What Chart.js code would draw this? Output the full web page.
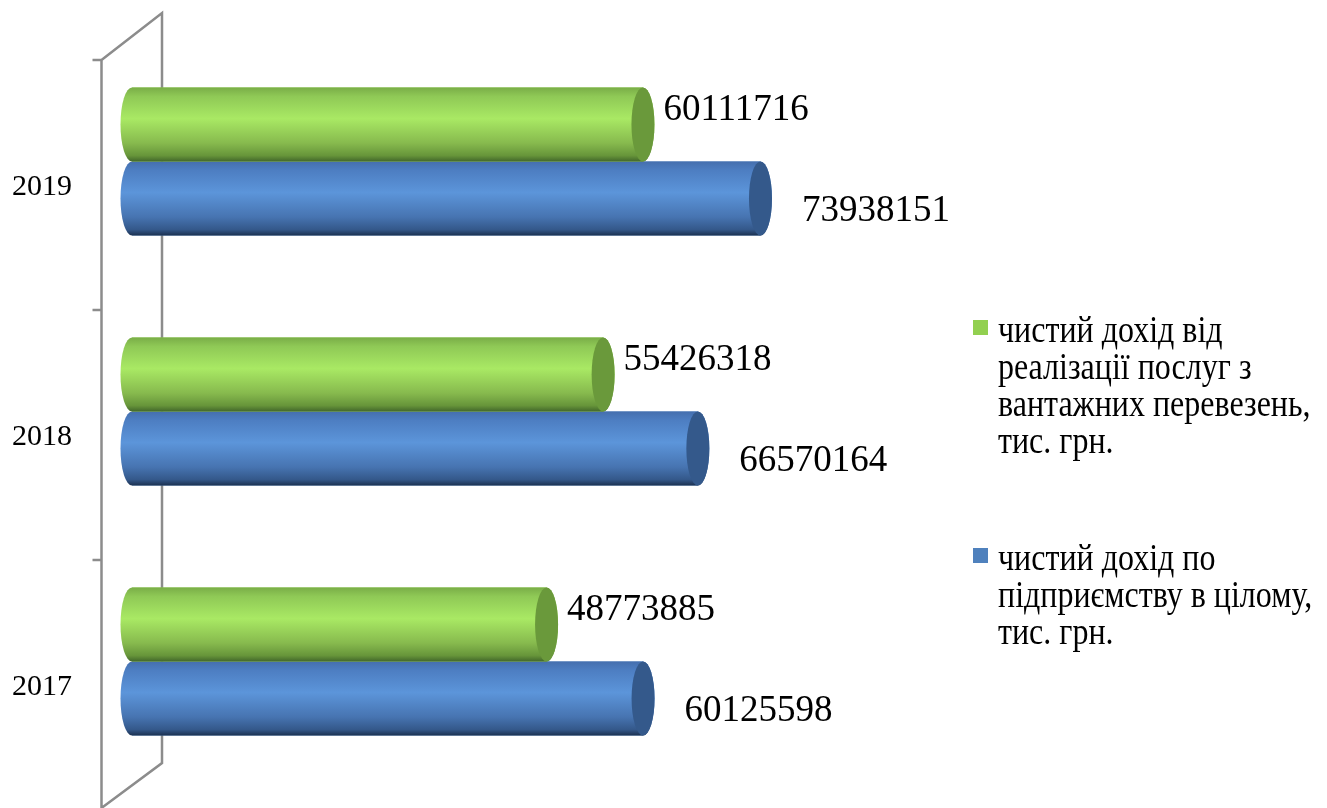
<!DOCTYPE html>
<html>
<head>
<meta charset="utf-8">
<script src="https://cdn.jsdelivr.net/npm/chart.js@4.4.1/dist/chart.umd.min.js"></script>
<style>
    html, body { margin: 0; padding: 0; background: #fff; }
    #wrap { width: 1327px; height: 808px; position: relative; }
</style>
</head>
<body>
<div id="wrap"><canvas id="incomeChart"></canvas></div>
<script>
// chart values
const years = ['2019', '2018', '2017'];
const freightIncome = [60111716, 55426318, 48773885];
const totalIncome = [73938151, 66570164, 60125598];
const freightLegend = ['чистий дохід від', 'реалізації послуг з', 'вантажних перевезень,', 'тис. грн.'];
const totalLegend = ['чистий дохід по', 'підприємству в цілому,', 'тис. грн.'];

const serif = "'Liberation Serif', 'Times New Roman', serif";

const looks = [
    {
        swatch: '#92d050',
        face: '#6a993b',
        stops: [[0, '#79ad47'], [0.12, '#8fc956'], [0.42, '#a9e964'], [0.75, '#87ba4e'], [0.92, '#67953a'], [1, '#42672a']],
        dx: 9, dy: -5
    },
    {
        swatch: '#4f81bd',
        face: '#34598b',
        stops: [[0, '#456fae'], [0.12, '#4d7ec2'], [0.42, '#5c95da'], [0.75, '#4774b1'], [0.92, '#34588a'], [1, '#1c3150']],
        dx: 30, dy: 22
    }
];
const capRx = 11.5;

// 3D wall lines, year labels
const wallPlugin = {
    id: 'wall',
    beforeDatasetsDraw(chart) {
        const ctx = chart.ctx;
        const ys = chart.scales.y;
        const step = (ys.bottom - ys.top) / years.length;
        const shift = 23.5;
        const frontX = 101.5, backX = 162;
        ctx.save();
        ctx.strokeStyle = '#8c8c8c';
        ctx.lineWidth = 2.5;
        ctx.beginPath();
        ctx.moveTo(frontX, ys.top + shift);
        ctx.lineTo(frontX, ys.bottom + shift);
        ctx.moveTo(frontX, ys.top + shift);
        ctx.lineTo(backX, ys.top - shift);
        ctx.lineTo(backX, ys.bottom - shift);
        ctx.lineTo(frontX, ys.bottom + shift - 2);
        for (let i = 0; i <= years.length; i++) {
            const ty = ys.top + shift + i * step;
            ctx.moveTo(frontX - 9, ty);
            ctx.lineTo(frontX, ty);
        }
        ctx.stroke();

        ctx.fillStyle = '#000';
        ctx.font = '30px ' + serif;
        ctx.textAlign = 'right';
        ctx.textBaseline = 'alphabetic';
        years.forEach((yr, i) => {
            ctx.fillText(yr, 72, ys.getPixelForValue(i) + 33.5);
        });
        ctx.restore();
    }
};

// cylinders drawn over the library bars
const cylinderPlugin = {
    id: 'cylinders',
    afterDatasetDraw(chart, args) {
        const ctx = chart.ctx;
        const look = looks[args.index];
        ctx.save();
        args.meta.data.forEach(el => {
            const p = el.getProps(['x', 'y', 'base', 'height'], true);
            const h = p.height;
            const top = p.y - h / 2, bottom = p.y + h / 2;
            const g = ctx.createLinearGradient(0, top, 0, bottom);
            look.stops.forEach(s => g.addColorStop(s[0], s[1]));
            ctx.beginPath();
            ctx.moveTo(p.base, top);
            ctx.lineTo(p.x, top);
            ctx.ellipse(p.x, p.y, capRx, h / 2, 0, -Math.PI / 2, Math.PI / 2);
            ctx.lineTo(p.base, bottom);
            ctx.ellipse(p.base, p.y, capRx, h / 2, 0, Math.PI / 2, Math.PI * 1.5);
            ctx.closePath();
            ctx.fillStyle = g;
            ctx.fill();

            ctx.beginPath();
            ctx.ellipse(p.x, p.y, capRx, h / 2, 0, 0, Math.PI * 2);
            ctx.fillStyle = look.face;
            ctx.fill();
        });
        ctx.restore();
    },
    afterDatasetsDraw(chart) {
        const ctx = chart.ctx;
        ctx.save();
        ctx.fillStyle = '#000';
        ctx.font = '37px ' + serif;
        ctx.textAlign = 'left';
        ctx.textBaseline = 'alphabetic';
        chart.data.datasets.forEach((ds, di) => {
            const look = looks[di];
            chart.getDatasetMeta(di).data.forEach((el, i) => {
                const p = el.getProps(['x', 'y'], true);
                ctx.fillText(String(ds.data[i]), p.x + capRx + look.dx, p.y + look.dy);
            });
        });
        ctx.restore();
    }
};

const legendPlugin = {
    id: 'sideLegend',
    afterDraw(chart) {
        const ctx = chart.ctx;
        const blocks = [freightLegend, totalLegend];
        const firstBase = [342, 570];
        ctx.save();
        blocks.forEach((lines, bi) => {
            ctx.fillStyle = looks[bi].swatch;
            ctx.fillRect(973, firstBase[bi] - 22, 15, 15);
            ctx.fillStyle = '#000';
            ctx.font = '32px ' + serif;
            ctx.textAlign = 'left';
            ctx.textBaseline = 'alphabetic';
            lines.forEach((line, li) => {
                ctx.save();
                ctx.translate(998, firstBase[bi] + li * 37);
                ctx.scale(1, 1.18);
                ctx.fillText(line, 0, 0);
                ctx.restore();
            });
        });
        ctx.restore();
    }
};

new Chart(document.getElementById('incomeChart'), {
    type: 'bar',
    data: {
        labels: years,
        datasets: [
            {
                label: freightLegend.join(' '),
                data: freightIncome,
                backgroundColor: looks[0].swatch,
                borderWidth: 0
            },
            {
                label: totalLegend.join(' '),
                data: totalIncome,
                backgroundColor: looks[1].swatch,
                borderWidth: 0
            }
        ]
    },
    options: {
        indexAxis: 'y',
        responsive: true,
        maintainAspectRatio: false,
        animation: false,
        categoryPercentage: 0.592,
        barPercentage: 1,
        layout: {
            padding: { left: 132, right: 515, top: 36.5, bottom: 21.5 }
        },
        scales: {
            x: { display: false, min: 0, max: 80000000 },
            y: { display: false }
        },
        plugins: {
            legend: { display: false },
            tooltip: { enabled: false }
        }
    },
    plugins: [wallPlugin, cylinderPlugin, legendPlugin]
});
</script>
</body>
</html>
